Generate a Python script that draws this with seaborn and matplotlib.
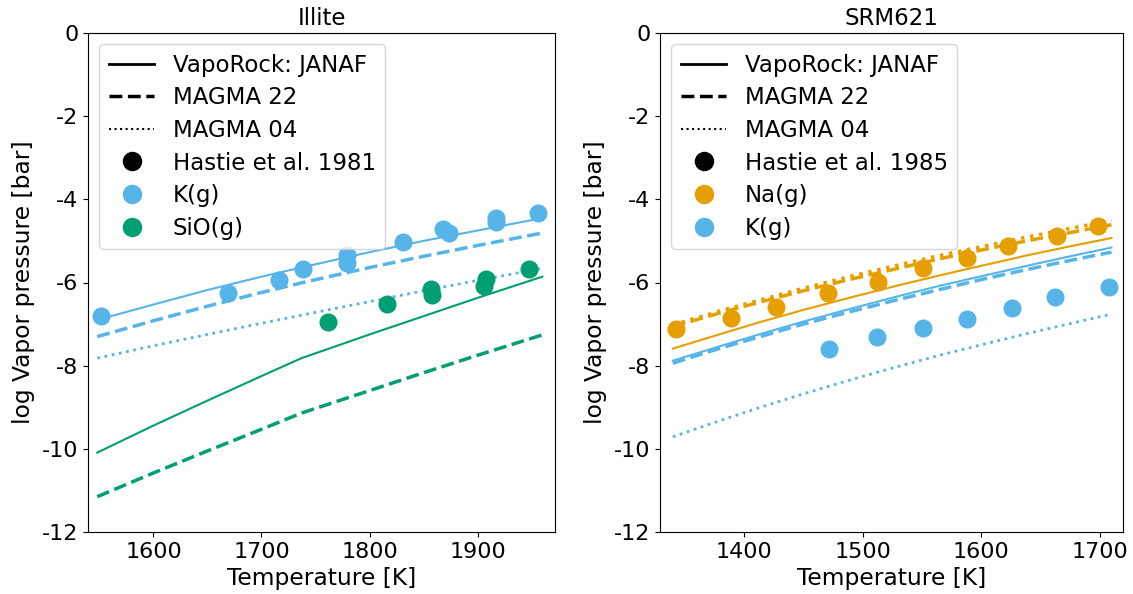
import numpy as np
import pandas as pd
import matplotlib
matplotlib.use("Agg")
import matplotlib.pyplot as plt
from matplotlib.lines import Line2D
import seaborn as sns

plt.rcParams['axes.unicode_minus'] = False
plt.rcParams['font.family'] = ['DejaVu Sans']

BLUE = "#56B4E9"
GREEN = "#009E73"
ORANGE = "#E69F00"

# ---------------- Illite ----------------
illite_K_T = [1551, 1669, 1716, 1738, 1779, 1779, 1831, 1868, 1874, 1917, 1917, 1956]
illite_K_P = [-6.80, -6.25, -5.94, -5.68, -5.34, -5.53, -5.03, -4.72, -4.80, -4.44, -4.54, -4.33]
illite_SiO_T = [1762, 1816, 1857, 1858, 1908, 1906, 1948]
illite_SiO_P = [-6.94, -6.52, -6.16, -6.30, -5.92, -6.08, -5.68]

illite_line_T = [1548, 1600, 1650, 1700, 1740, 1800, 1850, 1900, 1960]
illite_K_vapo = [-6.90, -6.53, -6.18, -5.86, -5.62, -5.27, -5.00, -4.75, -4.45]
illite_K_m22 = [-7.30, -6.92, -6.57, -6.24, -5.99, -5.64, -5.37, -5.11, -4.81]
illite_K_m04 = [-7.82, -7.52, -7.25, -6.98, -6.77, -6.46, -6.20, -5.95, -5.66]

illite_SiO_T_line = [1548, 1600, 1650, 1700, 1737, 1800, 1850, 1900, 1960]
illite_SiO_vapo = [-10.09, -9.44, -8.84, -8.25, -7.82, -7.25, -6.81, -6.37, -5.86]
illite_SiO_m22 = [-11.15, -10.58, -10.05, -9.53, -9.14, -8.60, -8.17, -7.75, -7.26]

# ---------------- SRM621 ----------------
srm_Na_T = [1343, 1389, 1427, 1471, 1513, 1551, 1588, 1623, 1664, 1699]
srm_Na_P = [-7.12, -6.86, -6.58, -6.26, -5.98, -5.65, -5.40, -5.13, -4.88, -4.63]
srm_K_T = [1472, 1512, 1551, 1588, 1626, 1662, 1708]
srm_K_P = [-7.60, -7.30, -7.10, -6.87, -6.62, -6.34, -6.10]

srm_line_T = [1340, 1380, 1415, 1450, 1490, 1530, 1565, 1600, 1640, 1675, 1710]
srm_Na_vapo = [-7.59, -7.24, -6.94, -6.66, -6.36, -6.07, -5.83, -5.60, -5.34, -5.13, -4.93]
srm_Na_m22 = [-7.06, -6.73, -6.46, -6.20, -5.92, -5.66, -5.43, -5.22, -4.99, -4.80, -4.61]
srm_Na_m04 = [-7.02, -6.68, -6.41, -6.14, -5.85, -5.58, -5.35, -5.14, -4.90, -4.70, -4.51]
srm_K_vapo = [-7.88, -7.53, -7.23, -6.94, -6.63, -6.33, -6.08, -5.85, -5.59, -5.37, -5.16]
srm_K_m22 = [-7.94, -7.58, -7.29, -7.00, -6.70, -6.41, -6.17, -5.93, -5.68, -5.47, -5.27]
srm_K_m04 = [-9.71, -9.32, -8.99, -8.68, -8.34, -8.02, -7.75, -7.50, -7.22, -6.99, -6.76]

FS = 16
MS = 13

fig = plt.figure(figsize=(11.33, 5.94), dpi=100)
ax1 = fig.add_axes([88/1133, 1-532/594, (555-88)/1133, (532-33)/594])
ax2 = fig.add_axes([660/1133, 1-532/594, (1123-660)/1133, (532-33)/594])

def line(ax, x, y, color, ls, lw):
    sns.lineplot(x=x, y=y, ax=ax, color=color, linestyle=ls, linewidth=lw, zorder=2)

def pts(ax, x, y, color):
    sns.scatterplot(x=x, y=y, ax=ax, color=color, s=MS**2, linewidth=0, zorder=3)

# Illite panel
line(ax1, illite_line_T, illite_K_vapo, BLUE, "-", 1.5)
line(ax1, illite_line_T, illite_K_m22, BLUE, "--", 2.5)
line(ax1, illite_line_T, illite_K_m04, BLUE, ":", 2.0)
line(ax1, illite_SiO_T_line, illite_SiO_vapo, GREEN, "-", 1.5)
line(ax1, illite_SiO_T_line, illite_SiO_m22, GREEN, "--", 2.5)
pts(ax1, illite_K_T, illite_K_P, BLUE)
pts(ax1, illite_SiO_T, illite_SiO_P, GREEN)

# SRM621 panel
line(ax2, srm_line_T, srm_Na_vapo, ORANGE, "-", 1.5)
line(ax2, srm_line_T, srm_Na_m22, ORANGE, "--", 2.5)
line(ax2, srm_line_T, srm_Na_m04, ORANGE, ":", 2.5)
line(ax2, srm_line_T, srm_K_vapo, BLUE, "-", 1.5)
line(ax2, srm_line_T, srm_K_m22, BLUE, "--", 2.5)
line(ax2, srm_line_T, srm_K_m04, BLUE, ":", 2.0)
pts(ax2, srm_Na_T, srm_Na_P, ORANGE)
pts(ax2, srm_K_T, srm_K_P, BLUE)

def base_handles(ref):
    return [
        Line2D([], [], color="black", ls="-", lw=2.0, label="VapoRock: JANAF"),
        Line2D([], [], color="black", ls="--", lw=2.5, label="MAGMA 22"),
        Line2D([], [], color="black", ls=":", lw=1.5, label="MAGMA 04"),
        Line2D([], [], color="black", marker="o", ls="none", ms=MS, label=ref),
    ]

h1 = base_handles("Hastie et al. 1981") + [
    Line2D([], [], color=BLUE, marker="o", ls="none", ms=MS, label="K(g)"),
    Line2D([], [], color=GREEN, marker="o", ls="none", ms=MS, label="SiO(g)"),
]
h2 = base_handles("Hastie et al. 1985") + [
    Line2D([], [], color=ORANGE, marker="o", ls="none", ms=MS, label="Na(g)"),
    Line2D([], [], color=BLUE, marker="o", ls="none", ms=MS, label="K(g)"),
]

for ax, title, xlim, xticks, handles in [
    (ax1, "Illite", (1539.4, 1971.7), [1600, 1700, 1800, 1900], h1),
    (ax2, "SRM621", (1329.2, 1719.7), [1400, 1500, 1600, 1700], h2),
]:
    ax.set_xlim(*xlim)
    ax.set_ylim(-12, 0)
    ax.set_xticks(xticks)
    ax.set_yticks([0, -2, -4, -6, -8, -10, -12])
    ax.tick_params(labelsize=FS)
    ax.set_xlabel("Temperature [K]", fontsize=16.8, labelpad=4)
    ax.set_ylabel("log Vapor pressure [bar]", fontsize=16.8, labelpad=5)
    ax.set_title(title, fontsize=16.5)
    ax.legend(handles=handles, loc="upper left", fontsize=16.5, labelspacing=0.42)

fig.savefig("out.png", dpi=100)
